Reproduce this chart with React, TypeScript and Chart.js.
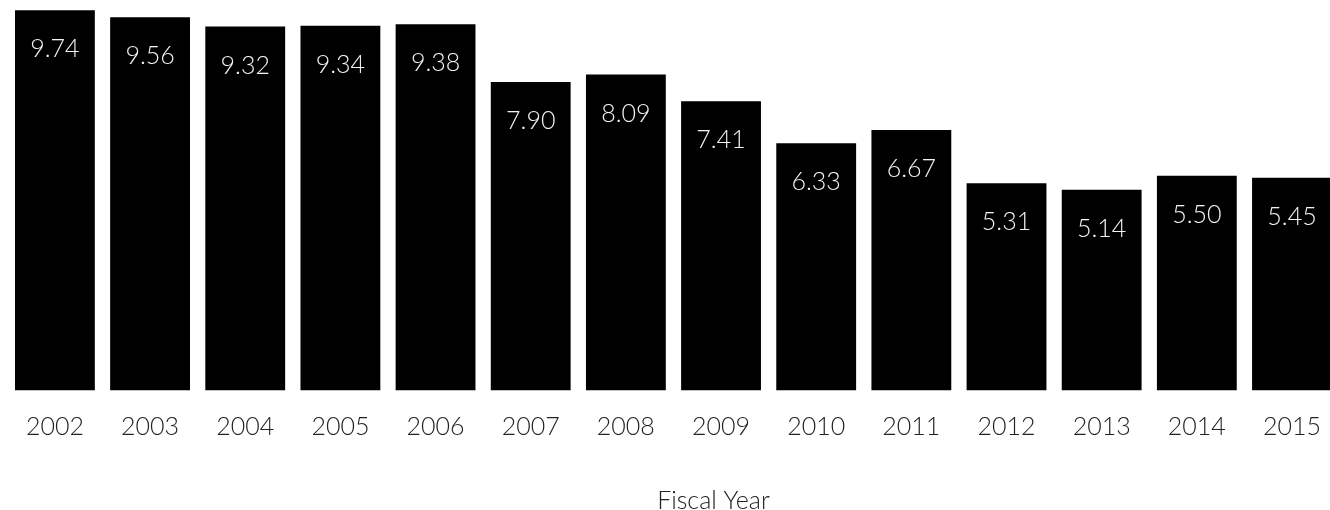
import React, { useEffect, useRef } from "react";
import { Chart, registerables } from "chart.js";

Chart.register(...registerables);

const years = ["2002","2003","2004","2005","2006","2007","2008","2009","2010","2011","2012","2013","2014","2015"];
const values = [9.74, 9.56, 9.32, 9.34, 9.38, 7.90, 8.09, 7.41, 6.33, 6.67, 5.31, 5.14, 5.50, 5.45];
const xTitle = "Fiscal Year";
const FONT = "Lato";

const valueLabelPlugin = {
  id: "valueLabels",
  afterDatasetsDraw(chart: any) {
    const ctx = chart.ctx;
    const meta = chart.getDatasetMeta(0);
    ctx.save();
    ctx.font = `300 25px ${FONT}`;
    ctx.fillStyle = "#f4f4f4";
    ctx.textAlign = "center";
    ctx.textBaseline = "middle";
    meta.data.forEach((bar: any, i: number) => {
      ctx.fillText(values[i].toFixed(2), bar.x, bar.y + 39);
    });
    ctx.restore();
  },
  afterDraw(chart: any) {
    const ctx = chart.ctx;
    const area = chart.chartArea;
    ctx.save();
    ctx.font = `300 25px ${FONT}`;
    ctx.fillStyle = "#222";
    ctx.textAlign = "center";
    ctx.textBaseline = "alphabetic";
    ctx.fillText(xTitle, (area.left + area.right) / 2 + 40, area.bottom + 118);
    ctx.restore();
  },
};

export default function App() {
  const ref = useRef<HTMLCanvasElement>(null);
  useEffect(() => {
    if (!ref.current) return;
    const chart = new Chart(ref.current, {
      type: "bar",
      data: {
        labels: years,
        datasets: [
          {
            data: values,
            backgroundColor: "#000",
            borderWidth: 0,
            barPercentage: 0.839,
            categoryPercentage: 1,
          },
        ],
      },
      options: {
        animation: false,
        responsive: true,
        maintainAspectRatio: false,
        layout: { padding: { left: 7.33, right: 0, top: 0, bottom: 47.5 } },
        plugins: { legend: { display: false }, tooltip: { enabled: false } },
        scales: {
          y: { display: false, min: 0, max: 10 },
          x: {
            offset: true,
            grid: { display: false, drawTicks: false },
            border: { display: false },
            ticks: {
              color: "#222",
              padding: 21,
              font: { family: FONT, size: 25, weight: "300" as any },
              maxRotation: 0,
              autoSkip: false,
            },
          },
        },
      },
      plugins: [valueLabelPlugin],
    });
    return () => chart.destroy();
  }, []);
  return (
    <div style={{ position: "fixed", left: 0, top: 0, width: 1330, height: 510, overflow: "hidden", background: "#fff" }}>
      <div style={{ position: "absolute", left: 0, top: 0, width: 1342, height: 510 }}>
        <canvas ref={ref} />
      </div>
    </div>
  );
}
